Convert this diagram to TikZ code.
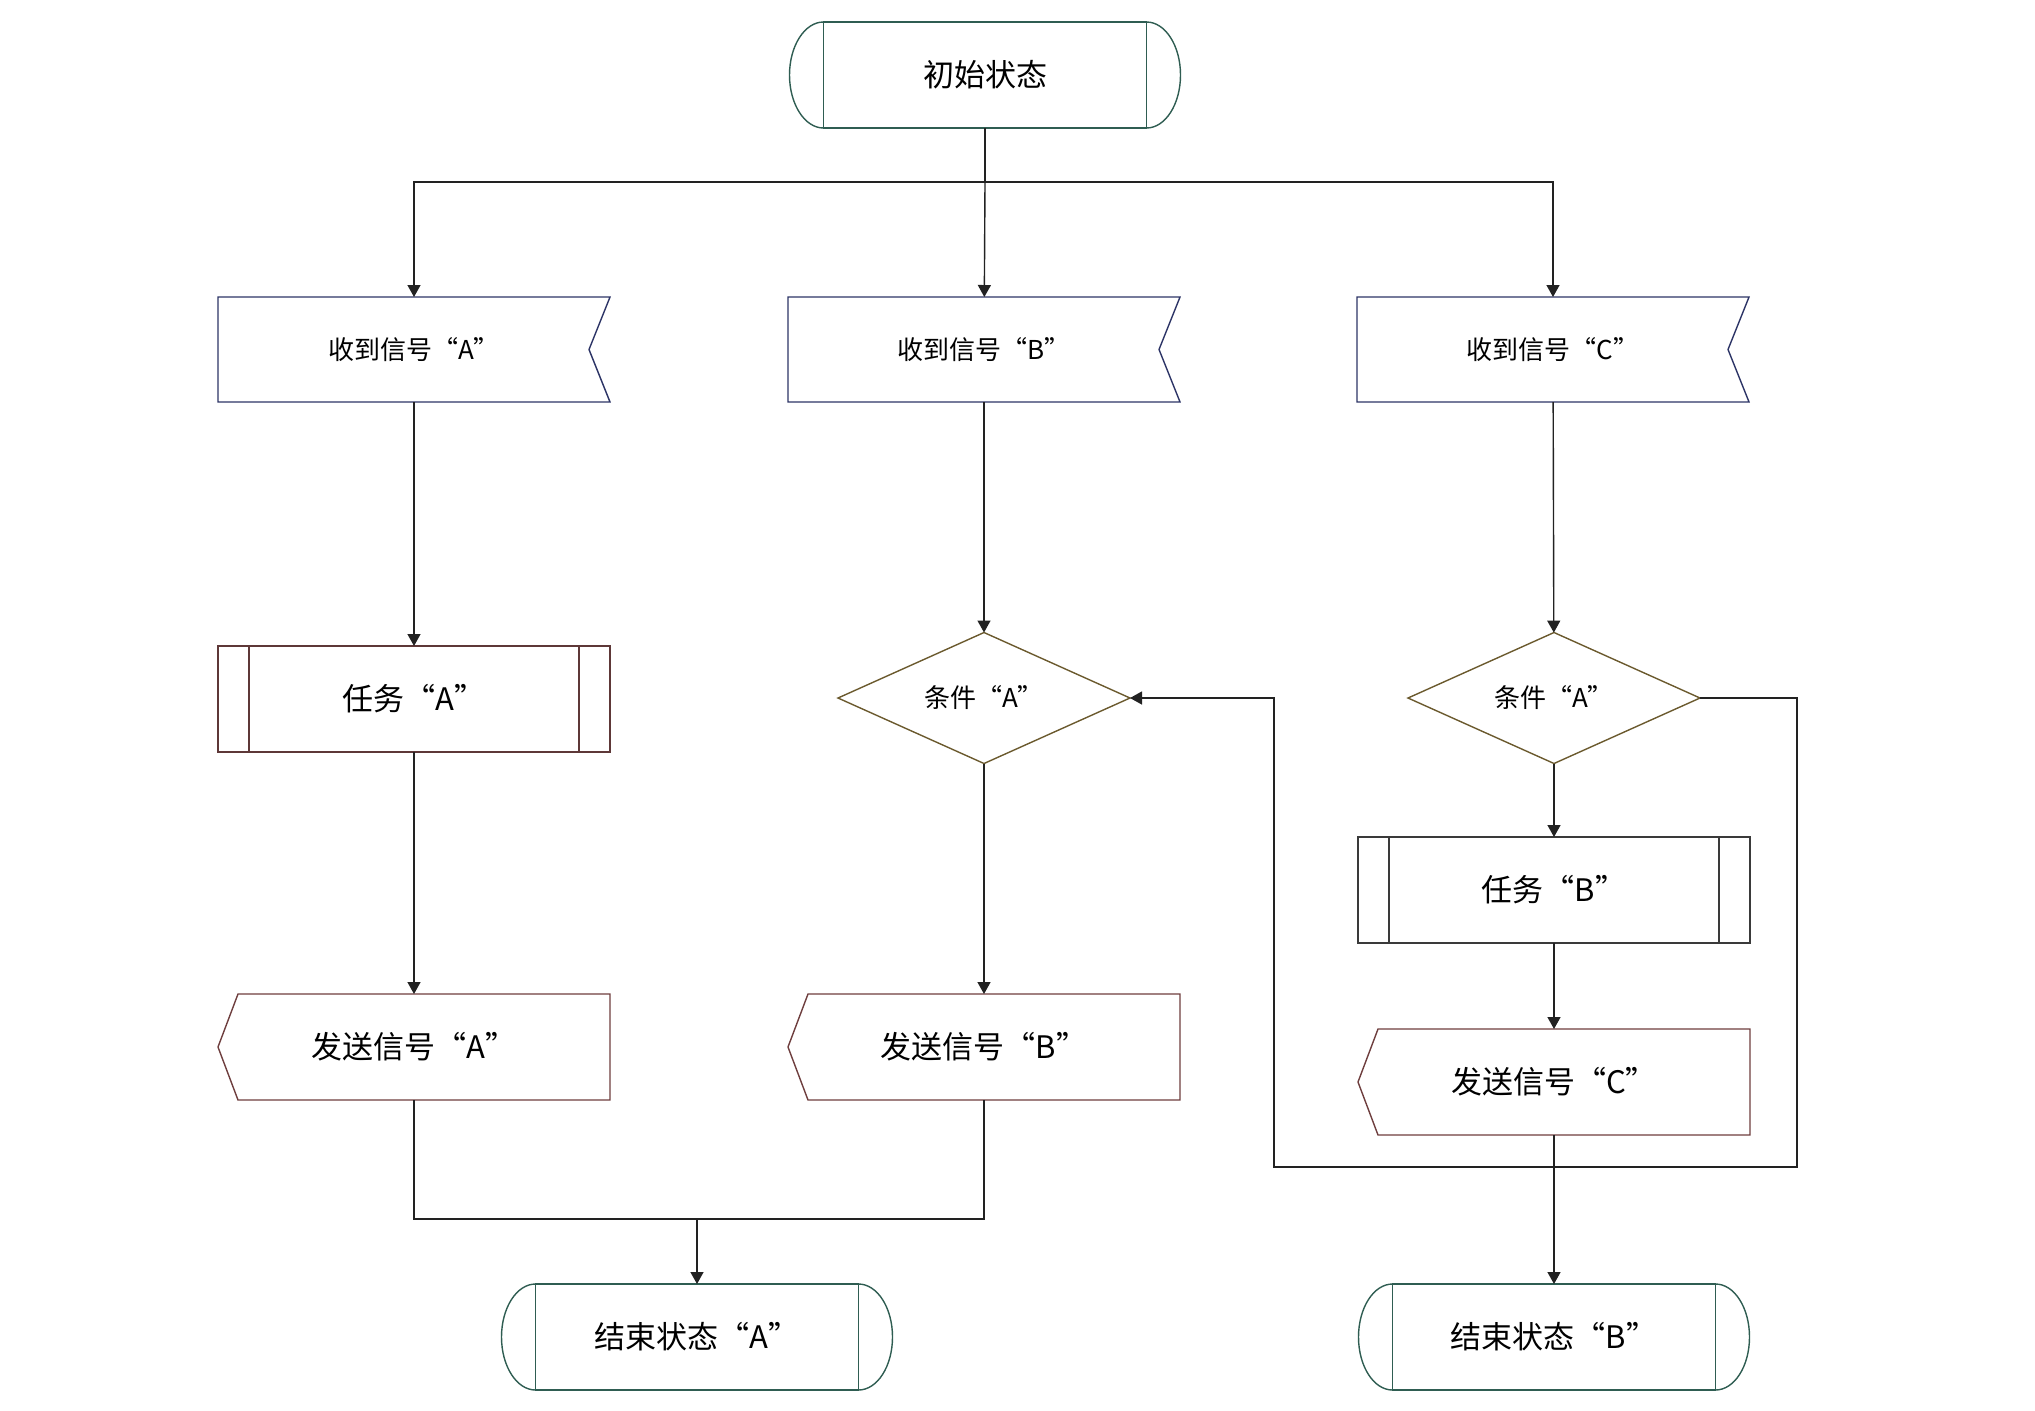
\documentclass[tikz,border=0pt]{standalone}
\usepackage{fontspec}
\setmainfont{Noto Sans CJK SC}
\newfontfamily\fwquote{Noto Sans CJK SC}[RawFeature=+fwid]
\newcommand{\oq}{{\fwquote “}}
\newcommand{\cq}{{\fwquote ”}}
\usepackage{tikz}
\usetikzlibrary{arrows.meta,shapes.geometric}
\definecolor{termcol}{HTML}{2F5D52}
\definecolor{recvcol}{HTML}{2C3466}
\definecolor{taskcol}{HTML}{5E3838}
\definecolor{condcol}{HTML}{6B5A2E}
\definecolor{sendcol}{HTML}{6E3E3E}
\definecolor{graycol}{HTML}{3A3A3A}
\definecolor{linecol}{HTML}{222222}
\newcommand{\termcaps}[1]{
    \draw[draw=termcol, line width=0.7pt] (#1.north west) arc[start angle=90, end angle=270, x radius=17pt, y radius=26.5pt];
    \draw[draw=termcol, line width=0.7pt] (#1.north east) arc[start angle=90, end angle=-90, x radius=17pt, y radius=26.5pt];
}
\newcommand{\recvnotch}[1]{
    \draw[draw=recvcol, line width=0.7pt] (#1.north west) -- (#1.north east) -- ([xshift=-10.5pt]#1.east) -- (#1.south east) -- (#1.south west) -- cycle;
}
\newcommand{\sendtip}[1]{
    \draw[draw=sendcol, line width=0.7pt] ([xshift=10pt]#1.north west) -- (#1.north east) -- (#1.south east) -- ([xshift=10pt]#1.south west) -- (#1.west) -- cycle;
}
\newcommand{\taskbars}[2]{
    \draw[draw=#2, line width=0.7pt] ([xshift=15.5pt]#1.north west) -- ([xshift=15.5pt]#1.south west);
    \draw[draw=#2, line width=0.7pt] ([xshift=-15.5pt]#1.north east) -- ([xshift=-15.5pt]#1.south east);
}

\begin{document}
\begin{tikzpicture}[x=0.5pt, y=-0.5pt,
    box/.style={rectangle, outer sep=0pt, inner sep=0pt, minimum width=196pt, minimum height=53pt, font=\fontsize{15.5}{18}\selectfont},
    terminal/.style={box, draw=termcol, line width=0.7pt, minimum width=161.5pt},
    recvsig/.style={box, minimum height=52.5pt, font=\fontsize{13}{16}\selectfont},
    sendsig/.style={box},
    task/.style={box, draw=#1, line width=0.7pt},
    cond/.style={diamond, draw=condcol, line width=0.7pt, outer sep=0pt, inner sep=0pt, aspect=2.23, minimum width=146pt, minimum height=65.5pt, font=\fontsize{13}{16}\selectfont},
    flow/.style={draw=linecol, line width=0.7pt, -{Triangle[length=6pt, width=6.5pt]}},
    plain/.style={draw=linecol, line width=0.7pt}]
    \useasboundingbox (0,0) rectangle (2035,1410);

    \node[terminal] (start) at (985,75) {初始状态};
    \termcaps{start}

    \node[recvsig] (recvA) at (414,349.5) {收到信号\oq A\cq};
    \node[recvsig] (recvB) at (984,349.5) {收到信号\oq B\cq};
    \node[recvsig] (recvC) at (1553,349.5) {收到信号\oq C\cq};
    \recvnotch{recvA}
    \recvnotch{recvB}
    \recvnotch{recvC}

    \node[task=taskcol] (taskA) at (414,699) {任务\oq A\cq};
    \taskbars{taskA}{taskcol}
    \node[cond] (condB) at (984,698) {条件\oq A\cq};
    \node[cond] (condC) at (1554,698) {条件\oq A\cq};
    \node[task=graycol] (taskB) at (1554,890) {任务\oq B\cq};
    \taskbars{taskB}{graycol}

    \node[sendsig] (sendA) at (414,1047) {发送信号\oq A\cq};
    \node[sendsig] (sendB) at (984,1047) {发送信号\oq B\cq};
    \node[sendsig] (sendC) at (1554,1082) {发送信号\oq C\cq};
    \sendtip{sendA}
    \sendtip{sendB}
    \sendtip{sendC}

    \node[terminal] (endA) at (697,1337) {结束状态\oq A\cq};
    \node[terminal] (endB) at (1554,1337) {结束状态\oq B\cq};
    \termcaps{endA}
    \termcaps{endB}

    \coordinate (bus) at (985,182);
    \coordinate (merge) at (697,1219);
    \coordinate (loopR) at (1797,1167);
    \coordinate (loopL) at (1274,1167);

    \draw[plain] (start) -- (bus);
    \draw[flow] (bus) -| (recvA);
    \draw[flow] (bus) -- (recvB);
    \draw[flow] (bus) -| (recvC);
    \draw[flow] (recvA) -- (taskA);
    \draw[flow] (recvB) -- (condB);
    \draw[flow] (recvC) -- (condC);
    \draw[flow] (taskA) -- (sendA);
    \draw[flow] (condB) -- (sendB);
    \draw[flow] (condC) -- (taskB);
    \draw[flow] (taskB) -- (sendC);
    \draw[plain] (sendA) |- (merge);
    \draw[plain] (sendB) |- (merge);
    \draw[flow] (merge) -- (endA);
    \draw[flow] (sendC) -- (endB);
    \draw[flow] (condC.east) -| (loopR) -- (loopL) |- (condB.east);
\end{tikzpicture}
\end{document}
